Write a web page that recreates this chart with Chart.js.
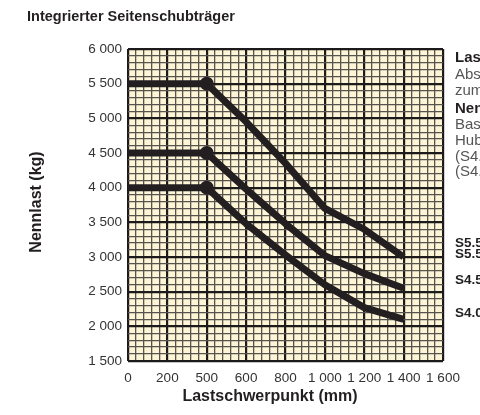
<!DOCTYPE html>
<html>
<head>
<meta charset="utf-8">
<script src="https://cdn.jsdelivr.net/npm/chart.js@4.4.0/dist/chart.umd.min.js"></script>
<style>
  html, body { margin: 0; padding: 0; background: #ffffff; }
  #wrap { width: 480px; height: 415px; position: relative; }
</style>
</head>
<body>
<div id="wrap"><canvas id="c" width="480" height="415"></canvas></div>
<script>
// ---- data ----
const xPositions = [0, 400, 600, 800, 1000, 1200, 1400];
const xTickLabels = ['0', '200', '500', '600', '800', '1 000', '1 200', '1 400', '1 600'];
const seriesS55 = [5500, 5500, 4950, 4350, 3700, 3400, 3000];
const seriesS45 = [4500, 4500, 3980, 3480, 3020, 2760, 2550];
const seriesS40 = [4000, 4000, 3480, 3030, 2600, 2270, 2100];
const dotRadius = [0, 7, 0, 0, 0, 0, 0];

const chartTitle = 'Integrierter Seitenschubträger';
const yTitle = 'Nennlast (kg)';
const xTitle = 'Lastschwerpunkt (mm)';
const sideNotes = [
  {t: 'Lastschwerpunkt:', b: true, y: 58},
  {t: 'Abstand vom Gabelrücken', b: false, y: 75},
  {t: 'zum Lastschwerpunkt', b: false, y: 91},
  {t: 'Nennlast:', b: true, y: 109},
  {t: 'Basierend auf maximaler', b: false, y: 125},
  {t: 'Hubhöhe von 4 800 mm', b: false, y: 141},
  {t: '(S4.0/S4.5) und 5 000 mm', b: false, y: 157},
  {t: '(S4.0/S4.5 FT)', b: false, y: 172}
];
const seriesLabels = [
  {t: 'S5.5 FT', y: 243},
  {t: 'S5.5', y: 254},
  {t: 'S4.5', y: 280},
  {t: 'S4.0', y: 313}
];

const ink = '#231f20';
const FONT = '"Liberation Sans", Arial, sans-serif';
const toPts = (ys) => xPositions.map((x, i) => ({x: x, y: ys[i]}));

const bgPlugin = {
  id: 'bg',
  beforeDraw(chart) {
    const {ctx, chartArea: a} = chart;
    ctx.save();
    ctx.fillStyle = '#fdf5d6';
    ctx.fillRect(a.left, a.top, a.right - a.left, a.bottom - a.top);
    ctx.restore();
  },
  afterDraw(chart) {
    const ctx = chart.ctx;
    ctx.save();
    ctx.fillStyle = ink;
    ctx.textBaseline = 'middle';
    ctx.textAlign = 'left';
    ctx.font = 'bold 14.5px ' + FONT;
    ctx.fillText(chartTitle, 27, 17);
    sideNotes.forEach(n => {
      ctx.font = (n.b ? 'bold ' : '') + '15px ' + FONT;
      ctx.fillStyle = n.b ? ink : '#555555';
      ctx.fillText(n.t, 455, n.y);
    });
    ctx.fillStyle = ink;
    ctx.font = 'bold 13.5px ' + FONT;
    seriesLabels.forEach(n => ctx.fillText(n.t, 455, n.y));
    // axis titles
    ctx.textAlign = 'center';
    ctx.font = 'bold 16px ' + FONT;
    ctx.fillText(xTitle, 270, 397);
    ctx.translate(37, 202);
    ctx.rotate(-Math.PI / 2);
    ctx.fillText(yTitle, 0, 0);
    ctx.restore();
  }
};

const lineDs = (label, ys) => ({
  label: label,
  data: toPts(ys),
  borderColor: ink,
  backgroundColor: ink,
  borderWidth: 7,
  pointRadius: dotRadius,
  pointHoverRadius: dotRadius,
  pointBorderWidth: 0,
  tension: 0,
  borderJoinStyle: 'round',
  borderCapStyle: 'butt',
  fill: false
});

new Chart(document.getElementById('c'), {
  type: 'line',
  data: {
    datasets: [
      lineDs('S5.5', seriesS55),
      lineDs('S4.5', seriesS45),
      lineDs('S4.0', seriesS40)
    ]
  },
  options: {
    responsive: false,
    animation: false,
    devicePixelRatio: 1,
    layout: { padding: { top: 49, right: 37, left: 0, bottom: 0 } },
    plugins: { legend: { display: false }, tooltip: { enabled: false }, title: { display: false } },
    scales: {
      x: {
        type: 'linear',
        min: 0, max: 1600,
        afterFit(s) { s.height = 54; },
        border: { display: false },
        grid: {
          drawTicks: false,
          color: (c) => (Math.round(c.tick.value) % 200 === 0 ? '#1c1a1a' : '#57534f'),
          lineWidth: (c) => (Math.round(c.tick.value) % 200 === 0 ? 2.2 : 1.3)
        },
        ticks: {
          stepSize: 40,
          maxTicksLimit: 100,
          autoSkip: false,
          maxRotation: 0,
          padding: 9,
          color: '#333333',
          font: { family: FONT, size: 13.5 },
          callback: (v) => {
            const r = Math.round(v);
            return r % 200 === 0 ? xTickLabels[r / 200] : '';
          }
        },
        title: { display: false }
      },
      y: {
        min: 1500, max: 6000,
        afterFit(s) { s.width = 128; },
        border: { display: false },
        grid: {
          drawTicks: false,
          color: (c) => (Math.round(c.tick.value) % 500 === 0 ? '#1c1a1a' : '#57534f'),
          lineWidth: (c) => (Math.round(c.tick.value) % 500 === 0 ? 2.2 : 1.3)
        },
        ticks: {
          stepSize: 100,
          maxTicksLimit: 100,
          autoSkip: false,
          padding: 6,
          color: '#333333',
          font: { family: FONT, size: 13.5 },
          callback: (v) => {
            const r = Math.round(v);
            if (r % 500 !== 0) return '';
            return String(r).replace(/\B(?=(\d{3})+(?!\d))/g, ' ');
          }
        },
        title: { display: false }
      }
    }
  },
  plugins: [bgPlugin]
});
</script>
</body>
</html>
